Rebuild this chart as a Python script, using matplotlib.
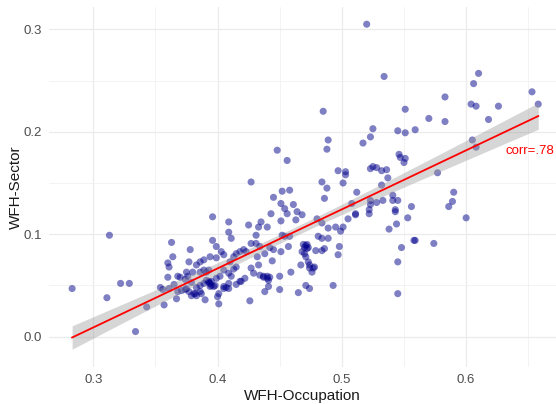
import numpy as np
import matplotlib
matplotlib.use("Agg")
import matplotlib.pyplot as plt
from matplotlib.ticker import MultipleLocator

# ---- data ----
wfh_occupation = [
    0.283, 0.313, 0.311, 0.322, 0.329, 0.334, 0.343, 0.354, 0.357, 0.360,
    0.360, 0.361, 0.363, 0.364, 0.367, 0.365, 0.356, 0.361,
    0.370, 0.374, 0.376, 0.375, 0.378, 0.377, 0.379, 0.381, 0.380, 0.383,
    0.386, 0.389, 0.383, 0.386, 0.390, 0.393, 0.396, 0.396, 0.399, 0.399,
    0.391, 0.394, 0.397, 0.399, 0.400, 0.401, 0.403, 0.405, 0.405, 0.405,
    0.409, 0.409, 0.411, 0.410, 0.411, 0.413, 0.415, 0.415, 0.418, 0.419,
    0.422, 0.421, 0.425, 0.427, 0.426, 0.427, 0.427, 0.429, 0.431, 0.432,
    0.433, 0.435, 0.434, 0.433, 0.437, 0.438, 0.440, 0.441, 0.441, 0.443,
    0.445, 0.445, 0.444, 0.450, 0.450, 0.448, 0.456, 0.452, 0.451, 0.451,
    0.451, 0.458, 0.454, 0.456, 0.457, 0.459, 0.461, 0.463, 0.464, 0.465,
    0.383, 0.379, 0.409, 0.409, 0.413, 0.409, 0.402, 0.393, 0.395, 0.389,
    0.386, 0.371, 0.368, 0.374, 0.389, 0.391, 0.386, 0.375, 0.368, 0.423,
    0.415, 0.431, 0.438, 0.442, 0.434, 0.440, 0.418, 0.394, 0.394,
    0.393, 0.395, 0.398, 0.405, 0.407, 0.437, 0.440, 0.442, 0.377, 0.382,
    0.387, 0.401, 0.471, 0.472, 0.511,
    0.468, 0.480, 0.484, 0.489, 0.495, 0.499, 0.501, 0.505, 0.511, 0.522,
    0.543, 0.553, 0.538, 0.544, 0.559, 0.452, 0.454, 0.458, 0.481, 0.484,
    0.489, 0.469, 0.472, 0.470, 0.473, 0.468, 0.470, 0.471, 0.473, 0.474,
    0.474, 0.476, 0.477, 0.478, 0.479, 0.484, 0.486, 0.498, 0.497, 0.467,
    0.548, 0.545, 0.471, 0.474, 0.493, 0.545,
    0.485, 0.551, 0.525, 0.523, 0.517, 0.545, 0.551, 0.559, 0.489, 0.488,
    0.546, 0.547, 0.551, 0.550, 0.497, 0.503, 0.503, 0.501, 0.523, 0.525,
    0.528, 0.532, 0.536, 0.537, 0.484, 0.488, 0.486, 0.512, 0.532, 0.541,
    0.541, 0.545, 0.543, 0.523, 0.528, 0.533, 0.523, 0.522, 0.508, 0.556,
    0.520, 0.534, 0.583, 0.606, 0.610, 0.604, 0.608, 0.626, 0.618, 0.653,
    0.658, 0.570, 0.583, 0.605, 0.608, 0.577, 0.590, 0.589, 0.586, 0.600,
    0.574, 0.558,
]
wfh_sector = [
    0.047, 0.099, 0.038, 0.052, 0.052, 0.005, 0.029, 0.048, 0.031, 0.058,
    0.072, 0.068, 0.092, 0.078, 0.037, 0.051, 0.046, 0.047,
    0.058, 0.056, 0.059, 0.047, 0.085, 0.073, 0.053, 0.042, 0.063, 0.070,
    0.073, 0.075, 0.048, 0.044, 0.036, 0.065, 0.117, 0.094, 0.088, 0.077,
    0.055, 0.052, 0.049, 0.057, 0.039, 0.032, 0.083, 0.080, 0.065, 0.049,
    0.112, 0.102, 0.096, 0.073, 0.059, 0.078, 0.068, 0.051, 0.083, 0.054,
    0.057, 0.085, 0.109, 0.151, 0.035, 0.091, 0.067, 0.062, 0.099, 0.078,
    0.107, 0.112, 0.088, 0.070, 0.059, 0.044, 0.107, 0.055, 0.049, 0.120,
    0.085, 0.136, 0.074, 0.059, 0.046, 0.182, 0.172, 0.142, 0.130, 0.113,
    0.083, 0.143, 0.125, 0.120, 0.088, 0.063, 0.129, 0.114, 0.122, 0.043,
    0.040, 0.040, 0.047, 0.062, 0.066, 0.052, 0.059, 0.054, 0.054, 0.052,
    0.050, 0.045, 0.044, 0.046, 0.065, 0.063, 0.063, 0.063, 0.059, 0.083,
    0.081, 0.091, 0.081, 0.087, 0.060, 0.057, 0.054, 0.078, 0.049,
    0.053, 0.050, 0.050, 0.047, 0.048, 0.058, 0.059, 0.058, 0.044, 0.042,
    0.042, 0.042, 0.089, 0.086, 0.120,
    0.119, 0.115, 0.111, 0.106, 0.107, 0.103, 0.107, 0.115, 0.119, 0.120,
    0.122, 0.116, 0.105, 0.110, 0.094, 0.099, 0.098, 0.098, 0.098, 0.096,
    0.096, 0.090, 0.090, 0.087, 0.087, 0.083, 0.081, 0.078, 0.073, 0.070,
    0.067, 0.063, 0.067, 0.068, 0.084, 0.084, 0.086, 0.088, 0.080, 0.070,
    0.087, 0.073, 0.050, 0.047, 0.050, 0.042,
    0.220, 0.222, 0.203, 0.195, 0.189, 0.201, 0.199, 0.202, 0.192, 0.183,
    0.178, 0.175, 0.174, 0.170, 0.162, 0.161, 0.158, 0.150, 0.164, 0.166,
    0.165, 0.162, 0.163, 0.155, 0.151, 0.145, 0.135, 0.141, 0.148, 0.138,
    0.133, 0.133, 0.124, 0.133, 0.131, 0.133, 0.129, 0.124, 0.130, 0.127,
    0.305, 0.254, 0.234, 0.247, 0.257, 0.227, 0.225, 0.225, 0.212, 0.239,
    0.227, 0.213, 0.210, 0.192, 0.185, 0.160, 0.141, 0.132, 0.127, 0.116,
    0.091, 0.094,
]
x_ticks = [0.3, 0.4, 0.5, 0.6]
x_tick_labels = ["0.3", "0.4", "0.5", "0.6"]
y_ticks = [0.0, 0.1, 0.2, 0.3]
y_tick_labels = ["0.0", "0.1", "0.2", "0.3"]
corr_label = "corr=.78"

x = np.array(wfh_occupation)
y = np.array(wfh_sector)

plt.rcParams["font.family"] = ["Liberation Sans", "DejaVu Sans"]

fig = plt.figure(figsize=(5.56, 4.04), dpi=100)
ax = fig.add_axes([49 / 556, 37 / 404, (556 - 49) / 556, (367 - 7) / 404])

# linear fit with 95% confidence band
n = len(x)
b1, b0 = np.polyfit(x, y, 1)
xg = np.linspace(x.min(), x.max(), 80)
yg = b0 + b1 * xg
resid = y - (b0 + b1 * x)
s = np.sqrt(np.sum(resid ** 2) / (n - 2))
sxx = np.sum((x - x.mean()) ** 2)
se = s * np.sqrt(1.0 / n + (xg - x.mean()) ** 2 / sxx)
tval = 1.97

ax.scatter(x, y, s=26, color="#00008B", alpha=0.5, edgecolors="none", zorder=3)
ax.fill_between(xg, yg - tval * se, yg + tval * se, color="#999999", alpha=0.4,
                linewidth=0, zorder=4)
ax.plot(xg, yg, color="#FF0000", linewidth=1.3, zorder=5)

ax.text(0.632, 0.1815, corr_label, color="#FF0000", fontsize=9.5,
        ha="left", va="center", zorder=6)

ax.set_xlim(0.2644, 0.6723)
ax.set_ylim(-0.0296, 0.3218)

ax.set_xticks(x_ticks)
ax.set_xticklabels(x_tick_labels)
ax.set_yticks(y_ticks)
ax.set_yticklabels(y_tick_labels)
ax.xaxis.set_minor_locator(MultipleLocator(0.05))
ax.yaxis.set_minor_locator(MultipleLocator(0.05))

ax.grid(which="major", color="#EBEBEB", linewidth=0.9, zorder=0)
ax.grid(which="minor", color="#F1F1F1", linewidth=0.6, zorder=0)
ax.set_axisbelow(True)
for sp in ax.spines.values():
    sp.set_visible(False)
ax.tick_params(which="both", length=0)
ax.tick_params(axis="both", labelsize=9.5, labelcolor="#4D4D4D", pad=5)

ax.set_xlabel("WFH-Occupation", fontsize=11, color="#1a1a1a", labelpad=2)
ax.set_ylabel("WFH-Sector", fontsize=11, color="#1a1a1a", labelpad=0.5)

fig.savefig("out.png", dpi=100)
